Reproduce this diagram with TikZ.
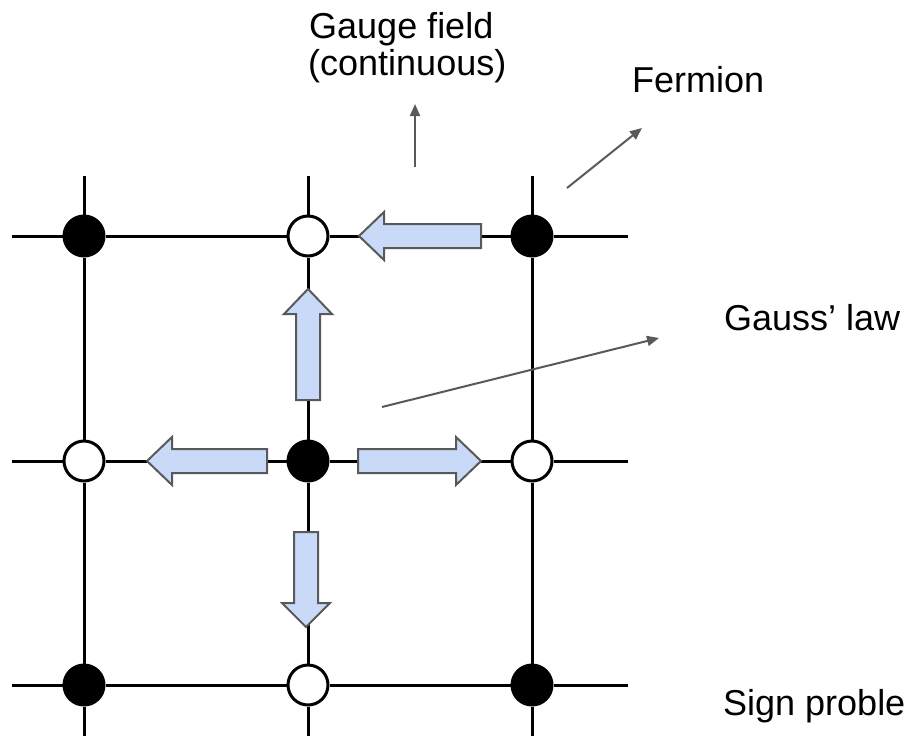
\documentclass[tikz,border=0pt]{standalone}
\usepackage{fontspec}
\setmainfont{Liberation Sans}
\usetikzlibrary{arrows.meta}
\definecolor{arrowfill}{HTML}{C9DAF8}
\definecolor{arrowedge}{HTML}{595959}
\definecolor{annot}{HTML}{595959}
\begin{document}
\begin{tikzpicture}[x=1pt,y=-1pt,
  gridline/.style={line width=3pt, draw=black},
  site/.style={circle, draw=black, line width=3pt, minimum size=40pt, inner sep=0pt},
  fsite/.style={site, fill=black},
  esite/.style={site, fill=white},
  blockarrow/.style={fill=arrowfill, draw=arrowedge, line width=2pt, line join=miter},
  note/.style={draw=annot, line width=2pt, -{Triangle[length=12pt,width=10pt]}},
  lbl/.style={anchor=base west, inner sep=0pt, font=\fontsize{36}{40}\selectfont}]
\useasboundingbox (0,0) rectangle (910,736);

% lattice sites
\node[fsite] (a11) at (84,236) {};
\node[esite] (a12) at (308,236) {};
\node[fsite] (a13) at (532,236) {};
\node[esite] (a21) at (84,461) {};
\node[fsite] (a22) at (308,461) {};
\node[esite] (a23) at (532,461) {};
\node[fsite] (a31) at (84,685) {};
\node[esite] (a32) at (308,685) {};
\node[fsite] (a33) at (532,685) {};

% free ends of lattice lines
\coordinate (t1) at (84,176);
\coordinate (t2) at (308,176);
\coordinate (t3) at (532,176);
\coordinate (b1) at (84,740);
\coordinate (b2) at (308,740);
\coordinate (b3) at (532,740);
\coordinate (l1) at (12,236);
\coordinate (l2) at (12,461);
\coordinate (l3) at (12,685);
\coordinate (r1) at (628,236);
\coordinate (r2) at (628,461);
\coordinate (r3) at (628,685);

% lattice lines
\draw[gridline] (t1) -- (a11) -- (a21) -- (a31) -- (b1);
\draw[gridline] (t2) -- (a12) -- (a22) -- (a32) -- (b2);
\draw[gridline] (t3) -- (a13) -- (a23) -- (a33) -- (b3);
\draw[gridline] (l1) -- (a11) -- (a12) -- (a13) -- (r1);
\draw[gridline] (l2) -- (a21) -- (a22) -- (a23) -- (r2);
\draw[gridline] (l3) -- (a31) -- (a32) -- (a33) -- (r3);

% block arrows (electric field)
\draw[blockarrow] (481,224) -- (384,224) -- (384,212) -- (359,236) -- (384,260) -- (384,248) -- (481,248) -- cycle;
\draw[blockarrow] (296,400) -- (296,314) -- (284,314) -- (308,289) -- (332,314) -- (320,314) -- (320,400) -- cycle;
\draw[blockarrow] (267,449) -- (172,449) -- (172,437) -- (147,461) -- (172,485) -- (172,473) -- (267,473) -- cycle;
\draw[blockarrow] (358,449) -- (456,449) -- (456,437) -- (481,461) -- (456,485) -- (456,473) -- (358,473) -- cycle;
\draw[blockarrow] (294,532) -- (294,603) -- (282,603) -- (306,627) -- (330,603) -- (318,603) -- (318,532) -- cycle;

% labels
\node[lbl] (gauge) at (309,38) {Gauge field};
\node[lbl] (cont) at (308,75) {(continuous)};
\node[lbl] (fermion) at (632,92) {Fermion};
\node[lbl] (gauss) at (724,330) {Gauss’ law};
\node[lbl] (sign) at (723,715) {Sign proble};

% annotation arrows
\coordinate (gs) at (415,167);
\coordinate (ge) at (415,104);
\coordinate (fs) at (567,188);
\coordinate (fe) at (642,128);
\coordinate (ls) at (382,407);
\coordinate (le) at (659,338);
\draw[note] (gs) -- (ge);
\draw[note] (fs) -- (fe);
\draw[note] (ls) -- (le);
\end{tikzpicture}
\end{document}
